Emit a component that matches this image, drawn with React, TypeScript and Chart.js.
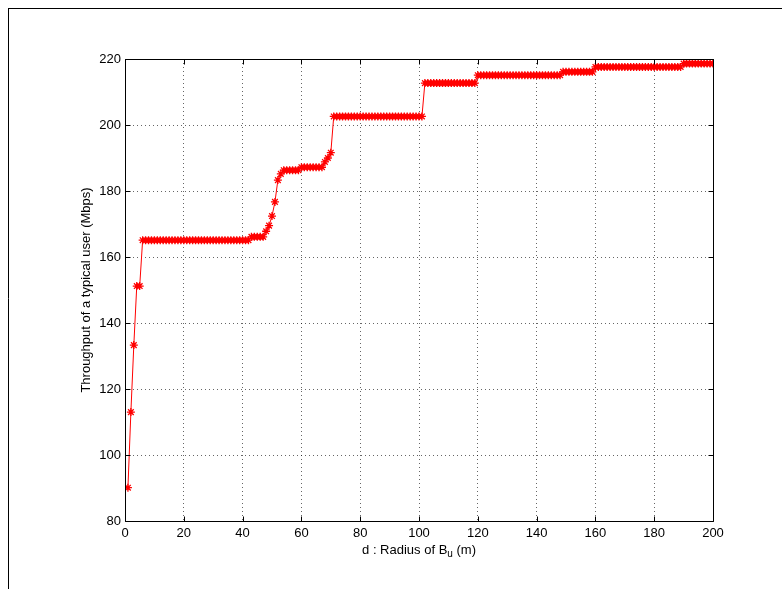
import React, { useEffect, useRef } from "react";
import { Chart, registerables } from "chart.js";

Chart.register(...registerables);

const dValues = [
  1, 2, 3, 4, 5, 6, 7, 8, 9, 10,
  11, 12, 13, 14, 15, 16, 17, 18, 19, 20,
  21, 22, 23, 24, 25, 26, 27, 28, 29, 30,
  31, 32, 33, 34, 35, 36, 37, 38, 39, 40,
  41, 42, 43, 44, 45, 46, 47, 48, 49, 50,
  51, 52, 53, 54, 55, 56, 57, 58, 59, 60,
  61, 62, 63, 64, 65, 66, 67, 68, 69, 70,
  71, 72, 73, 74, 75, 76, 77, 78, 79, 80,
  81, 82, 83, 84, 85, 86, 87, 88, 89, 90,
  91, 92, 93, 94, 95, 96, 97, 98, 99, 100,
  101, 102, 103, 104, 105, 106, 107, 108, 109, 110,
  111, 112, 113, 114, 115, 116, 117, 118, 119, 120,
  121, 122, 123, 124, 125, 126, 127, 128, 129, 130,
  131, 132, 133, 134, 135, 136, 137, 138, 139, 140,
  141, 142, 143, 144, 145, 146, 147, 148, 149, 150,
  151, 152, 153, 154, 155, 156, 157, 158, 159, 160,
  161, 162, 163, 164, 165, 166, 167, 168, 169, 170,
  171, 172, 173, 174, 175, 176, 177, 178, 179, 180,
  181, 182, 183, 184, 185, 186, 187, 188, 189, 190,
  191, 192, 193, 194, 195, 196, 197, 198, 199, 200,
];

const throughput = [
  90.1, 113.0, 133.3, 151.2, 151.2, 165.1, 165.1, 165.1, 165.1, 165.1,
  165.1, 165.1, 165.1, 165.1, 165.1, 165.1, 165.1, 165.1, 165.1, 165.1,
  165.1, 165.1, 165.1, 165.1, 165.1, 165.1, 165.1, 165.1, 165.1, 165.1,
  165.1, 165.1, 165.1, 165.1, 165.1, 165.1, 165.1, 165.1, 165.1, 165.1,
  165.1, 165.1, 166.1, 166.1, 166.1, 166.1, 166.1, 167.8, 169.5, 172.4,
  176.7, 183.3, 185.2, 186.3, 186.3, 186.3, 186.3, 186.3, 186.3, 187.2,
  187.2, 187.2, 187.2, 187.2, 187.2, 187.2, 187.2, 188.8, 190.0, 191.6,
  202.6, 202.6, 202.6, 202.6, 202.6, 202.6, 202.6, 202.6, 202.6, 202.6,
  202.6, 202.6, 202.6, 202.6, 202.6, 202.6, 202.6, 202.6, 202.6, 202.6,
  202.6, 202.6, 202.6, 202.6, 202.6, 202.6, 202.6, 202.6, 202.6, 202.6,
  202.6, 212.7, 212.7, 212.7, 212.7, 212.7, 212.7, 212.7, 212.7, 212.7,
  212.7, 212.7, 212.7, 212.7, 212.7, 212.7, 212.7, 212.7, 212.7, 215.1,
  215.1, 215.1, 215.1, 215.1, 215.1, 215.1, 215.1, 215.1, 215.1, 215.1,
  215.1, 215.1, 215.1, 215.1, 215.1, 215.1, 215.1, 215.1, 215.1, 215.1,
  215.1, 215.1, 215.1, 215.1, 215.1, 215.1, 215.1, 215.1, 216.1, 216.1,
  216.1, 216.1, 216.1, 216.1, 216.1, 216.1, 216.1, 216.1, 216.1, 217.6,
  217.6, 217.6, 217.6, 217.6, 217.6, 217.6, 217.6, 217.6, 217.6, 217.6,
  217.6, 217.6, 217.6, 217.6, 217.6, 217.6, 217.6, 217.6, 217.6, 217.6,
  217.6, 217.6, 217.6, 217.6, 217.6, 217.6, 217.6, 217.6, 217.6, 218.6,
  218.6, 218.6, 218.6, 218.6, 218.6, 218.6, 218.6, 218.6, 218.6, 218.6,
];

const xTicks = [0, 20, 40, 60, 80, 100, 120, 140, 160, 180, 200];
const yTicks = [80, 100, 120, 140, 160, 180, 200, 220];

const xTitleMain = "d : Radius of B";
const xTitleSub = "u";
const xTitleEnd = " (m)";
const yTitle = "Throughput of a typical user (Mbps)";

const FONT = "'Liberation Sans', Arial, Helvetica, sans-serif";

const W = 782;
const H = 589;

const decorPlugin = {
  id: "decor",
  afterDraw(chart: any) {
    const ctx = chart.ctx;
    const { left, right, top, bottom } = chart.chartArea;
    const xs = chart.scales.x;
    const ys = chart.scales.y;
    const L = Math.round(left) + 0.5;
    const R = Math.round(right) + 0.5;
    const T = Math.round(top) + 0.5;
    const B = Math.round(bottom) + 0.5;
    ctx.save();
    ctx.strokeStyle = "#000";
    ctx.lineWidth = 1;
    ctx.beginPath();
    ctx.moveTo(8, 8.5);
    ctx.lineTo(W, 8.5);
    ctx.moveTo(8.5, 8);
    ctx.lineTo(8.5, H);
    ctx.stroke();
    ctx.beginPath();
    ctx.rect(L, T, R - L, B - T);
    ctx.stroke();
    const tl = 5;
    ctx.beginPath();
    xTicks.forEach((v) => {
      const px = Math.round(xs.getPixelForValue(v)) + 0.5;
      ctx.moveTo(px, B);
      ctx.lineTo(px, B - tl);
      ctx.moveTo(px, T);
      ctx.lineTo(px, T + tl);
    });
    yTicks.forEach((v) => {
      const py = Math.round(ys.getPixelForValue(v)) + 0.5;
      ctx.moveTo(L, py);
      ctx.lineTo(L + tl, py);
      ctx.moveTo(R, py);
      ctx.lineTo(R - tl, py);
    });
    ctx.stroke();
    ctx.fillStyle = "#000";
    ctx.textBaseline = "alphabetic";
    ctx.textAlign = "left";
    const mainFont = `13px ${FONT}`;
    const subFont = `10px ${FONT}`;
    ctx.font = mainFont;
    const w1 = ctx.measureText(xTitleMain).width;
    const w3 = ctx.measureText(xTitleEnd).width;
    ctx.font = subFont;
    const w2 = ctx.measureText(xTitleSub).width;
    const total = w1 + w2 + w3;
    const cx = (left + right) / 2;
    let x0 = cx - total / 2;
    const baseY = 554;
    ctx.font = mainFont;
    ctx.fillText(xTitleMain, x0, baseY);
    x0 += w1;
    ctx.font = subFont;
    ctx.fillText(xTitleSub, x0, baseY + 3);
    x0 += w2;
    ctx.font = mainFont;
    ctx.fillText(xTitleEnd, x0, baseY);
    ctx.save();
    ctx.translate(90, (top + bottom) / 2);
    ctx.rotate(-Math.PI / 2);
    ctx.textAlign = "center";
    ctx.font = mainFont;
    ctx.fillText(yTitle, 0, 0);
    ctx.restore();
    ctx.restore();
  },
};

export default function App() {
  const ref = useRef<HTMLCanvasElement | null>(null);
  useEffect(() => {
    if (!ref.current) return;
    const points = dValues.map((d, i) => ({ x: d, y: throughput[i] }));
    const chart = new Chart(ref.current, {
      type: "line",
      data: {
        datasets: [
          {
            data: points,
            borderColor: "#ff0000",
            backgroundColor: "#ff0000",
            borderWidth: 1,
            pointStyle: "star",
            pointRadius: 4,
            pointBorderWidth: 1.3,
            pointBorderColor: "#ff0000",
            pointBackgroundColor: "#ff0000",
            tension: 0,
            fill: false,
          },
        ],
      },
      options: {
        responsive: false,
        animation: false,
        devicePixelRatio: 1,
        layout: { padding: { left: 0, top: 59, right: 69, bottom: 0 } },
        plugins: {
          legend: { display: false },
          tooltip: { enabled: false },
          title: { display: false },
        },
        scales: {
          x: {
            type: "linear",
            min: 0,
            max: 200,
            afterBuildTicks: (s: any) => {
              s.ticks = xTicks.map((v) => ({ value: v }));
            },
            afterFit: (s: any) => {
              s.height = 68;
            },
            grid: { color: "rgba(0,0,0,0.6)", lineWidth: 1, drawTicks: false },
            border: { display: false, dash: [1, 3] },
            ticks: {
              color: "#000",
              padding: 5,
              maxRotation: 0,
              font: { family: FONT, size: 13 },
              callback: (v: any) => String(v),
            },
          },
          y: {
            type: "linear",
            min: 80,
            max: 220,
            afterBuildTicks: (s: any) => {
              s.ticks = yTicks.map((v) => ({ value: v }));
            },
            afterFit: (s: any) => {
              s.width = 125;
            },
            grid: { color: "rgba(0,0,0,0.6)", lineWidth: 1, drawTicks: false },
            border: { display: false, dash: [1, 3] },
            ticks: {
              color: "#000",
              padding: 4,
              font: { family: FONT, size: 13 },
              callback: (v: any) => String(v),
            },
          },
        },
      },
      plugins: [decorPlugin],
    });
    return () => chart.destroy();
  }, []);
  return (
    <div style={{ position: "absolute", left: 0, top: 0, width: W, height: H, background: "#fff" }}>
      <canvas ref={ref} width={W} height={H} style={{ display: "block" }} />
    </div>
  );
}
